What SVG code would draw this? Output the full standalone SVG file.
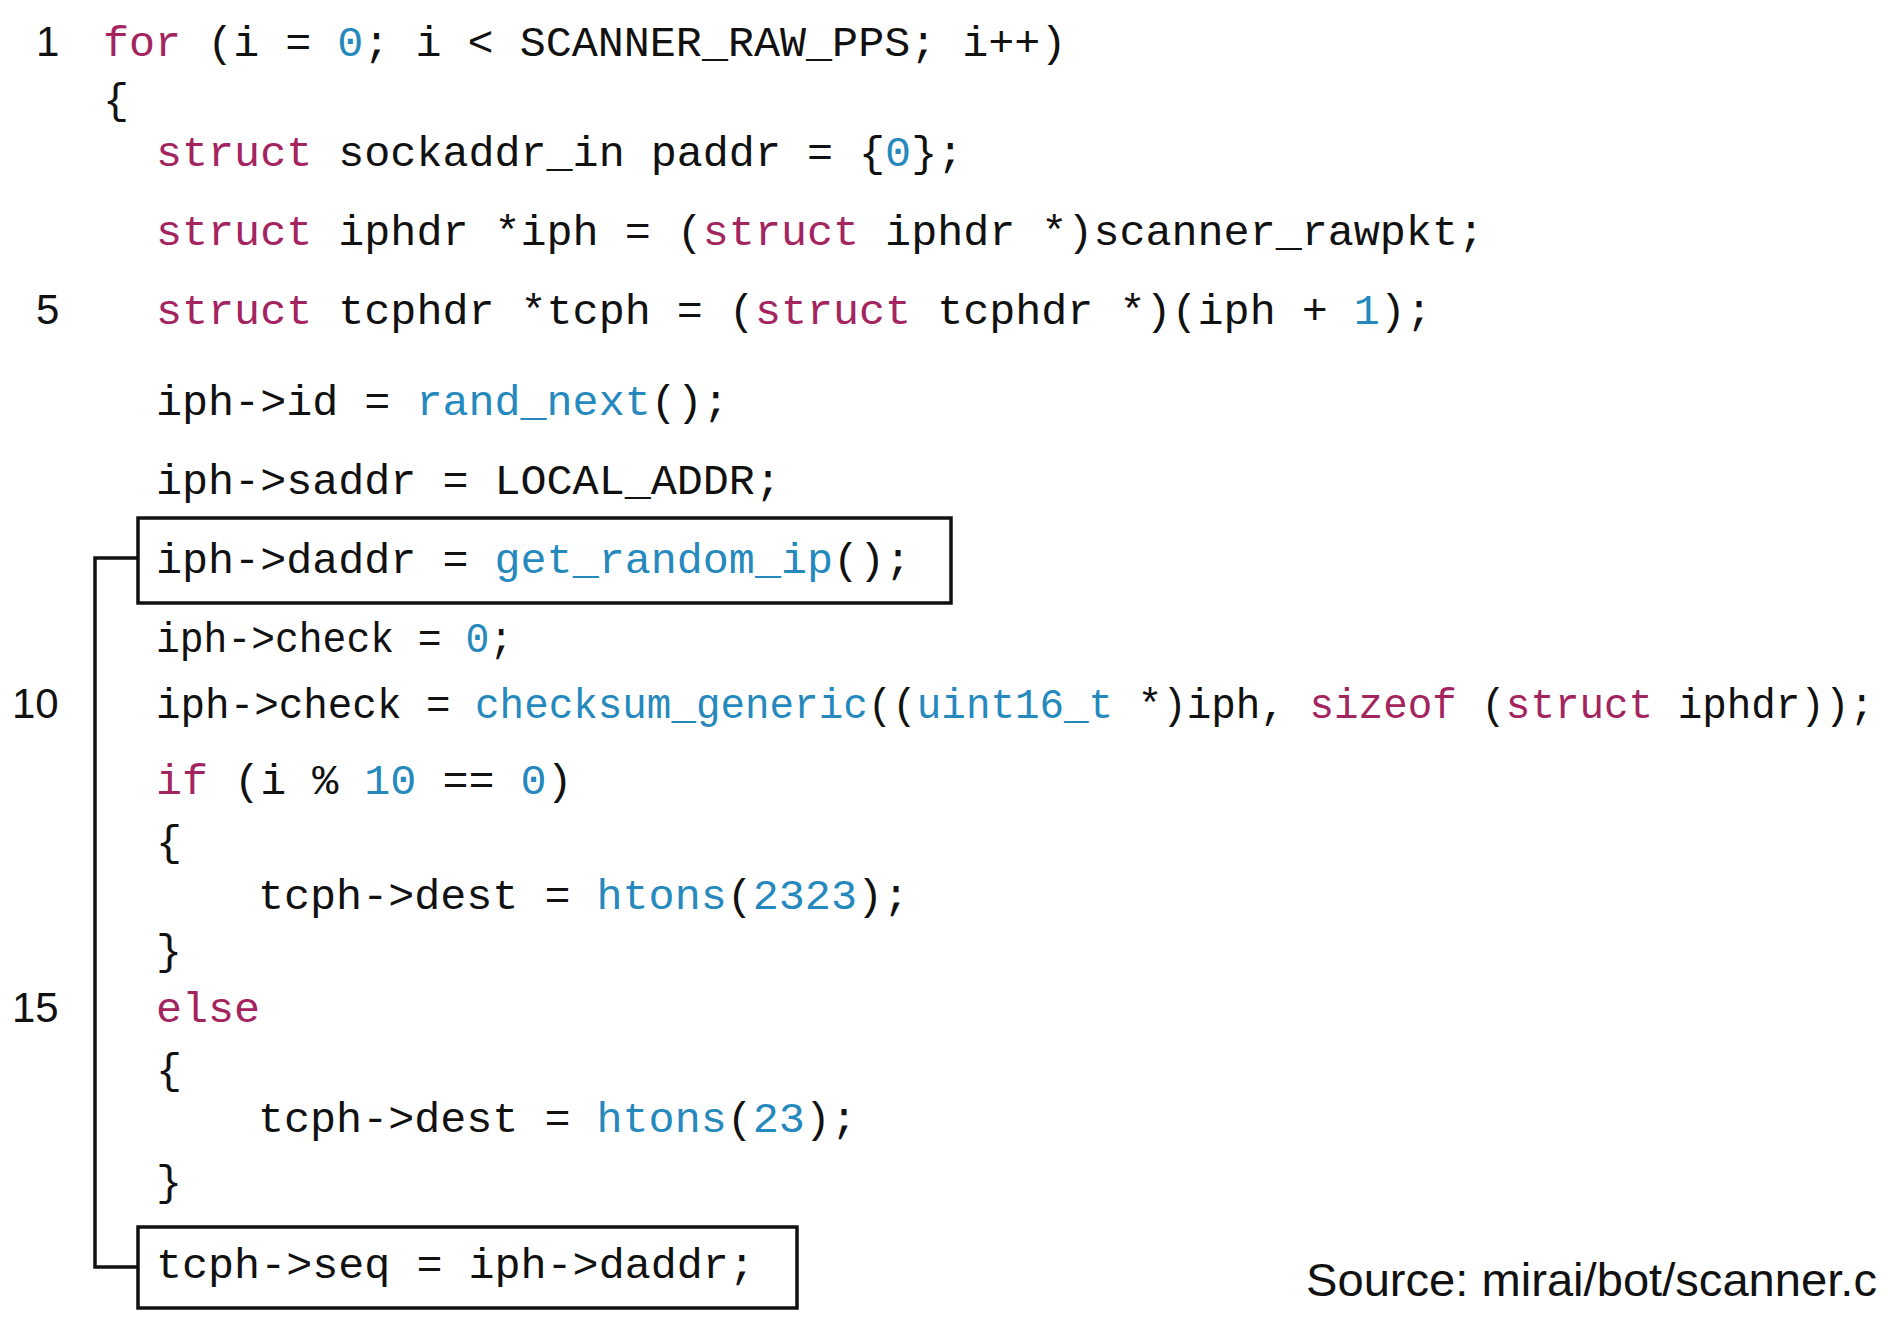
<svg xmlns="http://www.w3.org/2000/svg" width="1896" height="1320" viewBox="0 0 1896 1320">
<style>
text{font-family:"Liberation Mono","DejaVu Sans Mono",monospace;font-size:43.4px;fill:#111;white-space:pre}
.k{fill:#A3245E}.b{fill:#2589BD}
.n{font-family:"Liberation Sans",Arial,sans-serif;font-size:42px}
.box{fill:none;stroke:#111;stroke-width:3.5}
</style>
<rect width="1896" height="1320" fill="#fff"/>
<g id="linenumbers">
<text class="n" x="36" y="56">1</text>
<text class="n" x="36" y="324">5</text>
<text class="n" x="12" y="718">10</text>
<text class="n" x="12" y="1022">15</text>
</g>
<g id="code" xml:space="preserve">
<text x="103" y="56"><tspan class="k">for</tspan> (i = <tspan class="b">0</tspan>; i &lt; SCANNER_RAW_PPS; i++)</text>
<text x="103" y="113">{</text>
<text x="156" y="166"><tspan class="k">struct</tspan> sockaddr_in paddr = {<tspan class="b">0</tspan>};</text>
<text x="156" y="245"><tspan class="k">struct</tspan> iphdr *iph = (<tspan class="k">struct</tspan> iphdr *)scanner_rawpkt;</text>
<text x="156" y="324"><tspan class="k">struct</tspan> tcphdr *tcph = (<tspan class="k">struct</tspan> tcphdr *)(iph + <tspan class="b">1</tspan>);</text>
<text x="156" y="415">iph-&gt;id = <tspan class="b">rand_next</tspan>();</text>
<text x="156" y="494">iph-&gt;saddr = LOCAL_ADDR;</text>
<text x="156" y="573">iph-&gt;daddr = <tspan class="b">get_random_ip</tspan>();</text>
<text x="156" y="652" textLength="357" lengthAdjust="spacingAndGlyphs">iph-&gt;check = <tspan class="b">0</tspan>;</text>
<text x="156" y="718" textLength="1718" lengthAdjust="spacingAndGlyphs">iph-&gt;check = <tspan class="b">checksum_generic</tspan>((<tspan class="b">uint16_t</tspan> *)iph, <tspan class="k">sizeof</tspan> (<tspan class="k">struct</tspan> iphdr));</text>
<text x="156" y="794"><tspan class="k">if</tspan> (i % <tspan class="b">10</tspan> == <tspan class="b">0</tspan>)</text>
<text x="156" y="855">{</text>
<text x="258" y="909">tcph-&gt;dest = <tspan class="b">htons</tspan>(<tspan class="b">2323</tspan>);</text>
<text x="156" y="964">}</text>
<text x="156" y="1022" class="k">else</text>
<text x="156" y="1083">{</text>
<text x="258" y="1132">tcph-&gt;dest = <tspan class="b">htons</tspan>(<tspan class="b">23</tspan>);</text>
<text x="156" y="1195">}</text>
<text x="156" y="1278">tcph-&gt;seq = iph-&gt;daddr;</text>
</g>
<g id="boxes">
<rect class="box" x="138" y="518" width="813" height="85"/>
<rect class="box" x="138" y="1227" width="659" height="81"/>
</g>
<g id="connectors">
<polyline class="box" points="138,558 95,558 95,1267 138,1267"/>
</g>
<text class="n" x="1306" y="1296" textLength="571" lengthAdjust="spacingAndGlyphs" style="font-size:46px">Source: mirai/bot/scanner.c</text>
</svg>
